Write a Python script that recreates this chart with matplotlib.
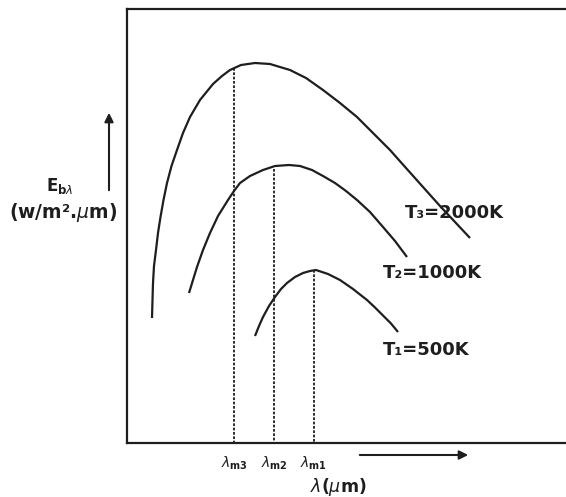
import numpy as np
import matplotlib
matplotlib.use("Agg")
import matplotlib.pyplot as plt

# curves (x = wavelength, y = emissive power, image-style units, y grows downward)
t3_x = [152, 152.5, 153, 154, 156, 158, 160.5, 163.5, 167, 171.5, 177, 183, 190, 200, 213, 222, 230, 241,
        255, 270, 290, 306, 323, 340, 357, 373, 390, 406, 423, 440, 455, 470]
t3_y = [318, 300, 283, 266, 250, 233, 217, 200, 183, 166, 150, 133, 117, 100, 84, 76, 70, 65,
        63, 64, 70, 78, 90, 103, 117, 133, 150, 168, 187, 206, 222, 238]

t2_x = [189, 193, 197, 203, 210, 218, 228, 234, 240, 250, 263, 275, 289, 300, 312, 323, 335,
        346, 357, 370, 383, 395, 407]
t2_y = [293, 280, 267, 250, 233, 216, 200, 191, 183, 176, 170, 166, 165, 166, 170, 176, 183,
        191, 200, 212, 227, 241, 257]

t1_x = [255, 259, 263, 269, 275, 281, 287, 295, 303, 310, 316, 328, 340, 353, 367, 375, 383,
        391, 398]
t1_y = [336, 326, 317, 306, 297, 289, 283, 277, 273, 271, 270, 274, 280, 289, 300, 307.5, 315.5,
        323.5, 332]

peak_x = [234, 274, 314]
peak_y = [68, 169, 270]
peak_labels = [r'$\lambda_{\mathbf{m3}}$', r'$\lambda_{\mathbf{m2}}$', r'$\lambda_{\mathbf{m1}}$']

curve_labels = ['T₃=2000K', 'T₂=1000K', 'T₁=500K']
label_x = [405, 383, 383]
label_y = [213, 273, 350]

H = 497
def flip(v):
    return [H - a for a in v]

fig = plt.figure(figsize=(5.66, 4.97), dpi=100)
ax = fig.add_axes([127 / 566, (H - 443) / H, (600 - 127) / 566, (443 - 9) / H])
ax.set_xlim(127, 600)
ax.set_ylim(H - 443, H - 9)

col = '#1e1e1e'
for xs, ys in [(t3_x, t3_y), (t2_x, t2_y), (t1_x, t1_y)]:
    ax.plot(xs, flip(ys), color=col, lw=1.6, solid_capstyle='butt', solid_joinstyle='round')

for px, py in zip(peak_x, peak_y):
    ax.plot([px, px], [H - py, H - 443], color=col, lw=1.3, linestyle=(0, (1.5, 0.9)))

for lab, lx, ly in zip(curve_labels, label_x, label_y):
    ax.text(lx, H - ly, lab, fontsize=13, fontweight='bold', color=col,
            va='center', ha='left')

for px, lab in zip(peak_x, peak_labels):
    ax.text(px, H - 463, lab, fontsize=10, color=col, ha='center', va='center',
            clip_on=False)

# axis arrows
ax.annotate('', xy=(471, H - 455), xytext=(357, H - 455), annotation_clip=False,
            arrowprops=dict(arrowstyle='-|>', color=col, lw=1.5, mutation_scale=13))
ax.annotate('', xy=(109, H - 110), xytext=(109, H - 193), annotation_clip=False,
            arrowprops=dict(arrowstyle='-|>', color=col, lw=1.5, mutation_scale=13))

ax.text(338, H - 487, r'$\lambda$(' + r'$\mu$' + 'm)', fontsize=12.5, fontweight='bold',
        color=col, ha='center', va='center', clip_on=False)
ax.text(60, H - 186, r'$\mathbf{E}_{\mathbf{b}\lambda}$', fontsize=12, color=col,
        ha='center', va='center', clip_on=False)
ax.text(63, H - 212, '(w/m².$\\mu$m)', fontsize=13.5, fontweight='bold',
        color=col, ha='center', va='center', clip_on=False)

for s in ['left', 'bottom', 'top']:
    ax.spines[s].set_linewidth(1.6)
    ax.spines[s].set_color(col)
ax.spines['right'].set_visible(False)
ax.set_xticks([])
ax.set_yticks([])

fig.savefig('out.png', dpi=100)
